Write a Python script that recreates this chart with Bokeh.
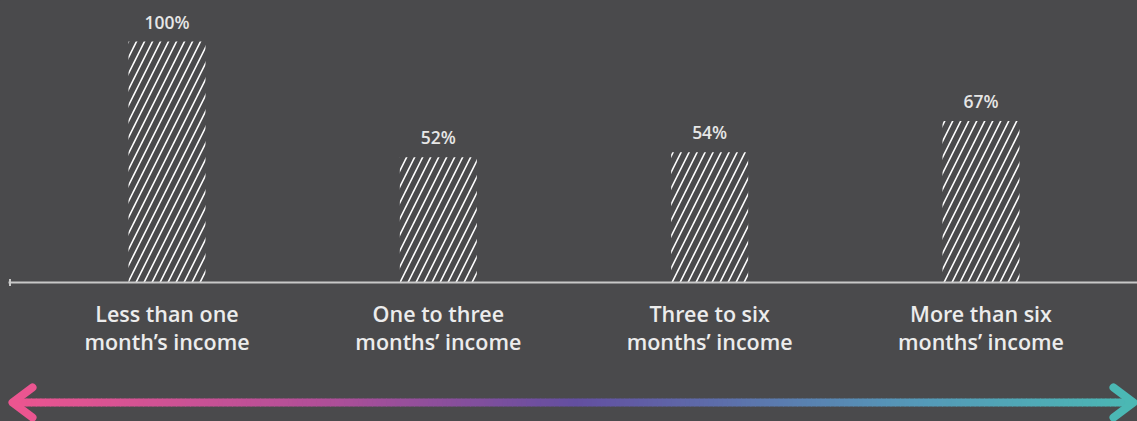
import numpy as np
from bokeh.plotting import figure
from bokeh.models import Range1d, ColumnDataSource
from bokeh.core.properties import value
from bokeh.embed import file_html
from bokeh.resources import INLINE

# ---- data ----
categories = ["Less than one\nmonth\u2019s income",
              "One to three\nmonths\u2019 income",
              "Three to six\nmonths\u2019 income",
              "More than six\nmonths\u2019 income"]
values = [100, 52, 54, 67]
value_labels = ["100%", "52%", "54%", "67%"]

# ---- layout helpers (canvas pixels -> data units) ----
W, H = 1137, 421
BG = "#4a4a4c"
px_per_x = 271.33           # pixels between bar centres
x0_px = 166.5               # canvas x of first bar centre
px_per_y = 2.41             # pixels per percentage point
base_px = 282.0             # canvas y of the baseline

x_start = -x0_px / px_per_x
x_end = x_start + W / px_per_x
y_end = base_px / px_per_y
y_start = -(H - base_px) / px_per_y


def xd(px):
    return x_start + px / px_per_x


def yd(px):
    return (base_px - px) / px_per_y


p = figure(width=W, height=H, output_backend="svg", toolbar_location=None,
           x_range=Range1d(x_start, x_end), y_range=Range1d(y_start, y_end),
           x_axis_type=None, y_axis_type=None, min_border=0,
           background_fill_color=BG, border_fill_color=BG,
           outline_line_color=None)

xpos = list(range(len(categories)))
src = ColumnDataSource(dict(x=xpos, top=values, cat=categories, lab=value_labels))

# hatched bars
p.vbar(x="x", top="top", bottom=0, width=77 / px_per_x, source=src,
       fill_alpha=0, line_color=None,
       hatch_pattern="/", hatch_color="#ffffff", hatch_scale=16,
       hatch_weight=1.6, hatch_alpha=1.0)

# baseline axis
p.segment(x0=[xd(8)], y0=[0], x1=[xd(W)], y1=[0], line_color="#c8c8c8", line_width=2)
p.segment(x0=[xd(9.5)], y0=[yd(base_px - 3.5)], x1=[xd(9.5)], y1=[yd(base_px + 3.5)],
          line_color="#c8c8c8", line_width=2)

FONT = value("Open Sans SemiBold")

# value labels
p.text(x="x", y="top", text="lab", source=src, text_align="center",
       text_baseline="alphabetic", y_offset=-20,
       text_font=FONT, text_font_style="normal",
       text_font_size="17.5px", text_color="#e6e6e6")

# category labels
p.text(x="x", y=yd(327), text="cat", source=src, text_align="center",
       text_baseline="middle", text_line_height=0.95,
       text_font=FONT, text_font_style="normal",
       text_font_size="21.5px", text_color="#ececec")

# gradient arrow
stops = [(0.0, (235, 85, 144)), (0.27, (178, 79, 152)), (0.5, (99, 79, 160)),
         (0.8, (85, 152, 184)), (1.0, (75, 184, 180))]


def col(t):
    for (a, ca), (b, cb) in zip(stops[:-1], stops[1:]):
        if a <= t <= b:
            f = (t - a) / (b - a)
            c = [int(round(ca[i] + (cb[i] - ca[i]) * f)) for i in range(3)]
            return "#%02x%02x%02x" % tuple(c)
    return "#%02x%02x%02x" % stops[-1][1]


ay = 402
ax0, ax1 = 12, 1133
n = 240
xs = np.linspace(ax0, ax1, n + 1)
p.segment(x0=[xd(v) for v in xs[:-1]], y0=[yd(ay)] * n,
          x1=[xd(v + 0.8) for v in xs[1:]], y1=[yd(ay)] * n,
          line_color=[col(i / n) for i in range(n)], line_width=8, line_cap="butt")
# arrow heads
head_dx, head_dy = 20, 15
p.multi_line(xs=[[xd(ax0 + head_dx), xd(ax0), xd(ax0 + head_dx)],
                 [xd(ax1 - head_dx), xd(ax1), xd(ax1 - head_dx)]],
             ys=[[yd(ay - head_dy), yd(ay), yd(ay + head_dy)]] * 2,
             line_color=[col(0.0), col(1.0)], line_width=8,
             line_cap="round", line_join="round")

template = """{% block postamble %}<style>html, body { background-color: #4a4a4c; }</style>{% endblock %}"""
open("out.html", "w").write(file_html(p, INLINE, template=template))
